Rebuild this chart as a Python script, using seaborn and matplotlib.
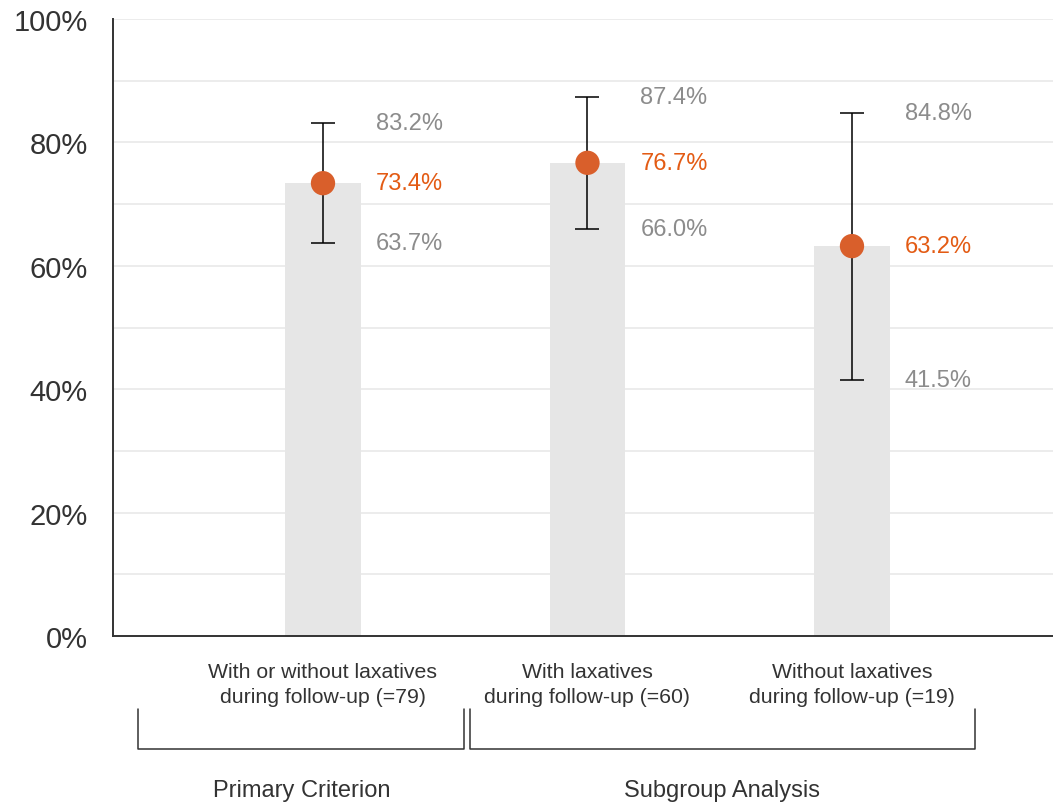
import matplotlib
matplotlib.use("Agg")
import matplotlib.pyplot as plt
import matplotlib.transforms as mtransforms
import seaborn as sns
import pandas as pd

# Response rates with 95% confidence intervals
categories = [
    "With or without laxatives\nduring follow-up (=79)",
    "With laxatives\nduring follow-up (=60)",
    "Without laxatives\nduring follow-up (=19)",
]
rate = [73.4, 76.7, 63.2]
ci_low = [63.7, 66.0, 41.5]
ci_high = [83.2, 87.4, 84.8]
y_ticks = [0, 20, 40, 60, 80, 100]
groups = ["Primary Criterion", "Subgroup Analysis"]

df = pd.DataFrame({"category": categories, "rate": rate,
                   "low": ci_low, "high": ci_high})
df["pos"] = range(len(df))

sns.set_theme(style="white")
plt.rcParams["font.family"] = ["Liberation Sans", "DejaVu Sans"]

fig = plt.figure(figsize=(10.53, 8.03), dpi=100)
ax = fig.add_axes([0.1073, 0.2067, 0.8927, 0.7683])

BAR = "#e6e6e6"
DOT = "#d95f2b"
DOT_TXT = "#e35b14"
GREY_TXT = "#8c8c8c"
DARK = "#333333"

sns.barplot(data=df, x="category", y="rate", color=BAR, width=0.287,
            saturation=1, errorbar=None, ax=ax, zorder=2, linewidth=0)

ax.errorbar(df["pos"], df["rate"],
            yerr=[df["rate"] - df["low"], df["high"] - df["rate"]],
            fmt="none", ecolor="black", elinewidth=1.1, capsize=8.6,
            capthick=1.1, zorder=3)
sns.scatterplot(data=df, x="pos", y="rate", color=DOT, s=17.5 ** 2,
                edgecolor="none", ax=ax, zorder=4, legend=False)

for p, r, lo, hi in zip(df["pos"], rate, ci_low, ci_high):
    ax.text(p + 0.2, hi, f"{hi:.1f}%", color=GREY_TXT, fontsize=17,
            ha="left", va="center")
    ax.text(p + 0.2, r, f"{r:.1f}%", color=DOT_TXT, fontsize=17,
            ha="left", va="center")
    ax.text(p + 0.2, lo, f"{lo:.1f}%", color=GREY_TXT, fontsize=17,
            ha="left", va="center")

ax.set_xlim(-0.794, 2.76)
ax.set_ylim(0, 100)
ax.set_yticks(y_ticks)
ax.set_yticklabels([f"{t}%" for t in y_ticks], fontsize=21, color=DARK)
ax.set_yticks([10, 30, 50, 70, 90], minor=True)
ax.grid(axis="y", which="both", color="#e9e9e9", linewidth=1.2, zorder=0)
ax.set_axisbelow(True)
ax.tick_params(axis="y", length=0, pad=18, which="both")
ax.tick_params(axis="x", length=0, pad=19)
ax.set_xticks(df["pos"])
ax.set_xticklabels(categories, fontsize=15.3, color=DARK, linespacing=1.35)
ax.set_xlabel("")
ax.set_ylabel("")

for side in ["top", "right"]:
    ax.spines[side].set_visible(False)
for side in ["left", "bottom"]:
    ax.spines[side].set_color(DARK)
    ax.spines[side].set_linewidth(1.4)

# Group brackets under the category labels
trans = mtransforms.blended_transform_factory(ax.transData, ax.transAxes)
y_top, y_bot = -0.118, -0.183
for x0, x1 in [(-0.70, 0.535), (0.556, 2.465)]:
    ax.plot([x0, x0, x1, x1], [y_top, y_bot, y_bot, y_top], color=DARK,
            linewidth=1.1, transform=trans, clip_on=False)

ax.text(-0.08, -0.25, groups[0], transform=trans, ha="center", va="center",
        fontsize=17, color=DARK)
ax.text(1.51, -0.25, groups[1], transform=trans, ha="center", va="center",
        fontsize=17, color=DARK)

fig.savefig("out.png", dpi=100)
